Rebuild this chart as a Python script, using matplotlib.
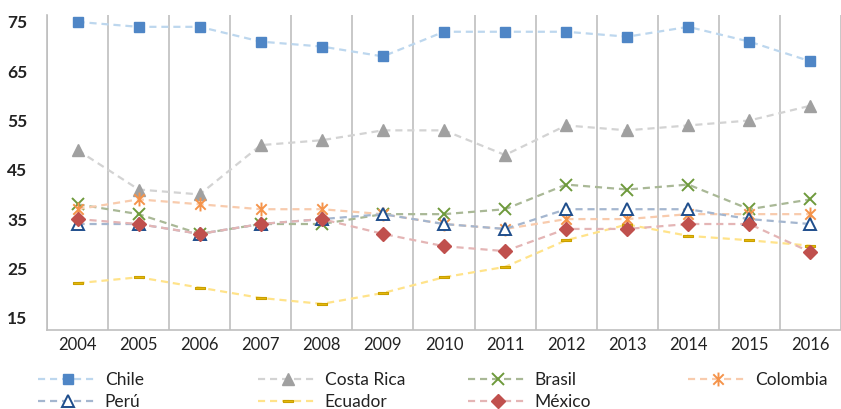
import numpy as np
import matplotlib
matplotlib.use('Agg')
import matplotlib.pyplot as plt
from matplotlib.path import Path

plt.rcParams['font.family'] = ['Lato', 'DejaVu Sans']

years = ['2004', '2005', '2006', '2007', '2008', '2009', '2010',
         '2011', '2012', '2013', '2014', '2015', '2016']

chile = [75, 74, 74, 71, 70, 68, 73, 73, 73, 72, 74, 71, 67]
costa_rica = [49, 41, 40, 50, 51, 53, 53, 48, 54, 53, 54, 55, 58]
brasil = [38, 36, 32, 34, 34, 36, 36, 37, 42, 41, 42, 37, 39]
colombia = [37, 39, 38, 37, 37, 36, 34, 33, 35, 35, 36, 36, 36]
peru = [34, 34, 32, 34, 35, 36, 34, 33, 37, 37, 37, 35, 34]
ecuador = [22, 23.2, 21.1, 19, 17.8, 20, 23.2, 25.3, 30.7, 33.9, 31.6, 30.7, 29.6]
mexico = [35, 34, 32, 34, 35, 32, 29.5, 28.5, 33, 33, 34, 34, 28.3]

y_ticks = [15, 25, 35, 45, 55, 65, 75]

# asterisk (x plus vertical bar) and flat dash markers
star_marker = Path([(0, -1), (0, 1), (-0.75, -0.75), (0.75, 0.75), (-0.75, 0.75), (0.75, -0.75)],
                   [Path.MOVETO, Path.LINETO] * 3)
dash_marker = Path([(-1, -0.25), (1, -0.25), (1, 0.25), (-1, 0.25), (-1, -0.25)],
                   [Path.MOVETO, Path.LINETO, Path.LINETO, Path.LINETO, Path.CLOSEPOLY])

series = [
    ('Chile', chile, '#BDD7EE', dict(marker='s', ms=7.5, mfc='#4F86C6', mec='#4F86C6')),
    ('Costa Rica', costa_rica, '#D3D3D3', dict(marker='^', ms=9, mfc='#A0A0A0', mec='#A0A0A0')),
    ('Brasil', brasil, '#A9B896', dict(marker='x', ms=9, mec='#6E9A3C', mew=1.4)),
    ('Colombia', colombia, '#F8CBAD', dict(marker=star_marker, ms=10, mec='#F5934A', mew=1.4)),
    ('Perú', peru, '#A4B6CF', dict(marker='^', ms=9, mfc='white', mec='#1F4E8C', mew=1.4)),
    ('Ecuador', ecuador, '#FFE38A', dict(marker=dash_marker, ms=7.5, mfc='#E8B90C', mec='#C9A000', mew=0.8)),
    ('México', mexico, '#E4B5B5', dict(marker='D', ms=7, mfc='#C0504D', mec='#C0504D')),
]

fig = plt.figure(figsize=(8.41, 4.09), dpi=100)
ax = fig.add_axes([47 / 841, 79 / 409, 1 - 47 / 841, 315 / 409])

x = np.arange(len(years))
handles = {}
for name, values, line_color, style in series:
    (h,) = ax.plot(x, values, color=line_color, lw=1.6, linestyle=(0, (3.2, 2.2)),
                   label=name, **style)
    handles[name] = h

ax.set_xlim(-0.5, 12.44)
ax.set_ylim(12.5, 76.4)
ax.set_xticks(x)
ax.set_xticklabels(years, fontsize=12, color='#222222')
ax.set_yticks(y_ticks)
ax.set_yticklabels([str(v) for v in y_ticks], fontsize=12.5, fontweight='bold', color='#222222')
ax.set_xticks(np.arange(-0.5, 13, 1), minor=True)
ax.tick_params(axis='both', which='both', length=0)
ax.tick_params(axis='y', pad=14)
ax.tick_params(axis='x', pad=5)
ax.grid(True, axis='x', which='minor', color='#BFBFBF', lw=1.2)
ax.grid(False, axis='x', which='major')
for side in ['top', 'right']:
    ax.spines[side].set_visible(False)
for side in ['left', 'bottom']:
    ax.spines[side].set_color('#BFBFBF')
    ax.spines[side].set_linewidth(1.2)

# legend laid out in four columns, row-wise order
columns = [(['Chile', 'Perú'], 38), (['Costa Rica', 'Ecuador'], 258),
           (['Brasil', 'México'], 468), (['Colombia'], 688)]
for names, x_px in columns:
    leg = fig.legend([handles[n] for n in names], names, loc='upper left',
                     bbox_to_anchor=(x_px / 841, 1 - 372 / 409), frameon=False,
                     fontsize=12.5, handlelength=3.4, handletextpad=0.45,
                     labelspacing=0.33, borderpad=0, borderaxespad=0)
    for t in leg.get_texts():
        t.set_color('#222222')

fig.savefig('out.png', dpi=100)
